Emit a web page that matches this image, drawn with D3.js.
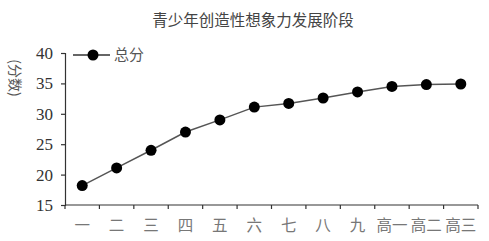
<!DOCTYPE html>
<html>
<head>
<meta charset="utf-8">
<script src="https://cdn.jsdelivr.net/npm/d3@7"></script>
<style>
  body { margin: 0; background: #fff; }
</style>
</head>
<body>
<div id="chart"></div>
<script>
const grades = ["一", "二", "三", "四", "五", "六", "七", "八", "九", "高一", "高二", "高三"]
const scores = [18.2, 21.1, 24.0, 27.0, 29.0, 31.1, 31.7, 32.6, 33.6, 34.5, 34.8, 34.9]
const yTicks = [15, 20, 25, 30, 35, 40]

const W = 489, H = 241
const margin = {top: 53, right: 11, bottom: 36, left: 65}

const svg = d3.select("#chart")
  .append("svg")
  .attr("width", W)
  .attr("height", H)

const x = d3.scaleBand()
  .domain(grades)
  .range([margin.left, W - margin.right])
  .padding(0)

const y = d3.scaleLinear()
  .domain([15, 40])
  .range([H - margin.bottom, margin.top])

// 标题
svg.append("text")
  .attr("x", 253)
  .attr("y", 26)
  .attr("text-anchor", "middle")
  .attr("font-family", "Noto Sans CJK SC")
  .attr("font-size", "15.5px")
  .attr("fill", "#444")
  .text("青少年创造性想象力发展阶段")

// y 轴
const yAxis = svg.append("g")
  .attr("transform", `translate(${margin.left},0)`)
  .call(d3.axisLeft(y).tickValues(yTicks).tickSize(4).tickPadding(8))
yAxis.select(".domain").attr("stroke", "#333").attr("stroke-width", 1.2)
yAxis.selectAll(".tick line").attr("stroke", "#333").attr("stroke-width", 1.2)
yAxis.selectAll(".tick text")
  .attr("font-family", "Liberation Serif")
  .attr("font-size", "17px")
  .attr("fill", "#333")

// x 轴 (刻度在类别边界)
const xAxis = svg.append("g")
  .attr("transform", `translate(0,${H - margin.bottom})`)
xAxis.append("line")
  .attr("x1", margin.left).attr("x2", W - margin.right)
  .attr("stroke", "#333").attr("stroke-width", 1.2)
xAxis.selectAll(".bt")
  .data(grades.concat([null]))
  .join("line")
  .attr("x1", (d, i) => margin.left + i * x.bandwidth())
  .attr("x2", (d, i) => margin.left + i * x.bandwidth())
  .attr("y1", 0).attr("y2", 4)
  .attr("stroke", "#333").attr("stroke-width", 1.2)
xAxis.selectAll("text")
  .data(grades)
  .join("text")
  .attr("x", d => x(d) + x.bandwidth() / 2)
  .attr("y", 26)
  .attr("text-anchor", "middle")
  .attr("font-family", "Noto Sans CJK SC")
  .attr("font-size", "15.5px")
  .attr("fill", "#777")
  .text(d => d)

// y 轴标题
svg.append("text")
  .attr("transform", "translate(10,78) rotate(90)")
  .attr("text-anchor", "middle")
  .attr("font-family", "Noto Sans CJK SC")
  .attr("font-size", "14px")
  .attr("fill", "#555")
  .text("(分数)")

// 折线
const line = d3.line()
  .x((d, i) => x(grades[i]) + x.bandwidth() / 2)
  .y(d => y(d))

svg.append("path")
  .datum(scores)
  .attr("d", line)
  .attr("fill", "none")
  .attr("stroke", "#555")
  .attr("stroke-width", 1.5)

svg.selectAll(".pt")
  .data(scores)
  .join("circle")
  .attr("cx", (d, i) => x(grades[i]) + x.bandwidth() / 2)
  .attr("cy", d => y(d))
  .attr("r", 5.5)
  .attr("fill", "#000")

// 图例
const lg = svg.append("g").attr("transform", "translate(73,55)")
lg.append("line").attr("x1", 0).attr("x2", 37)
  .attr("stroke", "#333").attr("stroke-width", 1.5)
lg.append("circle").attr("cx", 20).attr("r", 5.5).attr("fill", "#000")
lg.append("text")
  .attr("x", 41).attr("y", 5)
  .attr("font-family", "Noto Sans CJK SC")
  .attr("font-size", "15px")
  .attr("fill", "#555")
  .text("总分")
</script>
</body>
</html>
